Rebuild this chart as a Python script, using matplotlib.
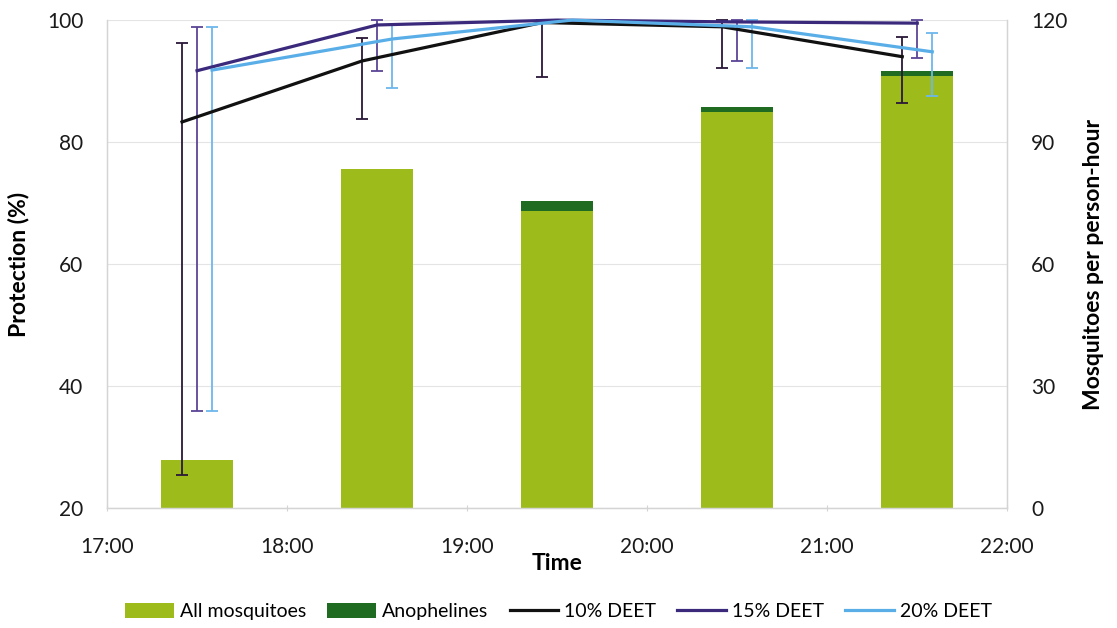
import matplotlib
matplotlib.use("Agg")
import matplotlib.pyplot as plt

plt.rcParams['font.family'] = ['Lato', 'DejaVu Sans']

# Sampling periods (bar centres) and hour ticks
periods = ["17:30", "18:30", "19:30", "20:30", "21:30"]
hour_ticks = ["17:00", "18:00", "19:00", "20:00", "21:00", "22:00"]

# Mosquito landing rates (per person-hour)
all_mosquitoes = [11.8, 83.4, 73.0, 97.4, 106.2]
anophelines = [0.0, 0.0, 2.5, 1.2, 1.3]

# Protection (%) with lower / upper confidence limits
deet10 = [83.3, 93.3, 99.6, 98.9, 94.0]
deet10_lo = [25.4, 83.8, 90.7, 92.2, 86.4]
deet10_hi = [96.3, 97.1, 100.0, 100.0, 97.3]

deet15 = [91.7, 99.2, 100.0, 99.7, 99.5]
deet15_lo = [35.9, 91.7, 100.0, 93.3, 93.8]
deet15_hi = [98.9, 100.0, 100.0, 100.0, 100.0]

deet20 = [91.8, 96.9, 100.0, 98.9, 94.8]
deet20_lo = [35.9, 88.9, 100.0, 92.2, 87.6]
deet20_hi = [98.9, 99.2, 100.0, 100.0, 97.9]


def to_hours(s):
    h, m = s.split(":")
    return int(h) + int(m) / 60.0


x = [to_hours(p) for p in periods]
xt = [to_hours(t) for t in hour_ticks]
shift = 5 / 60.0

fig = plt.figure(figsize=(11.17, 6.28), dpi=100)
ax_bar = fig.add_axes([0.0958, 0.191, 0.806, 0.777])
ax = ax_bar.twinx()

# Bars on the right-hand scale
bar_w = 0.4
ax_bar.bar(x, all_mosquitoes, width=bar_w, color="#9dbc1c", edgecolor="none",
           label="All mosquitoes", zorder=2)
ax_bar.bar(x, anophelines, width=bar_w, bottom=all_mosquitoes, color="#1f6b22",
           edgecolor="none", label="Anophelines", zorder=2)
ax_bar.set_ylim(0, 120)
ax_bar.set_xlim(17, 22)
ax_bar.yaxis.tick_right()
ax_bar.yaxis.set_label_position("right")
ax_bar.set_yticks([0, 30, 60, 90, 120])
ax_bar.set_ylabel("Mosquitoes per person-hour", fontsize=16.5, fontweight="bold",
                  labelpad=11)

# Protection lines on the left-hand scale
series = [
    (deet10, deet10_lo, deet10_hi, -shift, "#111111", "#2b1838", "10% DEET"),
    (deet15, deet15_lo, deet15_hi, 0.0, "#3b2a7c", "#5a4596", "15% DEET"),
    (deet20, deet20_lo, deet20_hi, shift, "#5aaee8", "#6db8ec", "20% DEET"),
]
for vals, lo, hi, dx, lc, ec, name in series:
    xs = [v + dx for v in x]
    err = [[v - l for v, l in zip(vals, lo)], [h - v for v, h in zip(vals, hi)]]
    ax.errorbar(xs, vals, yerr=err, fmt="none", ecolor=ec, elinewidth=1.3,
                capsize=4, capthick=1.3, clip_on=False, zorder=3)
    ax.plot(xs, vals, color=lc, lw=2.3, label=name, clip_on=False, zorder=4,
            solid_joinstyle="round")

ax.set_ylim(20, 100)
ax.set_xlim(17, 22)
ax.yaxis.tick_left()
ax.yaxis.set_label_position("left")
ax.set_yticks([20, 40, 60, 80, 100])
ax.set_ylabel("Protection (%)", fontsize=16.5, fontweight="bold", labelpad=13)

# Gridlines follow the shared five divisions
ax_bar.yaxis.grid(True, color="#e4e4e4", lw=0.8)
ax_bar.set_axisbelow(True)

ax_bar.set_xticks(xt)
ax_bar.set_xticklabels(hour_ticks)
ax_bar.set_xlabel("Time", fontsize=16.5, fontweight="bold", labelpad=-3)

for a in (ax, ax_bar):
    for sp in a.spines.values():
        sp.set_color("#d4d4d4")
        sp.set_linewidth(0.9)
    a.spines["top"].set_visible(False)
    a.tick_params(axis="both", labelsize=15, colors="#d4d4d4", labelcolor="#1a1a1a",
                  length=4, direction="inout")
ax.tick_params(axis="x", bottom=False, labelbottom=False)
ax.tick_params(axis="y", pad=17, length=0)
ax_bar.tick_params(axis="x", pad=19)
ax_bar.tick_params(axis="y", pad=17, length=0)

# Legend along the bottom
h1, l1 = ax_bar.get_legend_handles_labels()
h2, l2 = ax.get_legend_handles_labels()
fig.legend(h1 + h2, l1 + l2, loc="center", bbox_to_anchor=(0.5, 0.026), ncol=5,
           frameon=False, fontsize=14, handlelength=2.5, handleheight=0.8,
           columnspacing=1.1, handletextpad=0.3)

fig.savefig("out.png", dpi=100)
